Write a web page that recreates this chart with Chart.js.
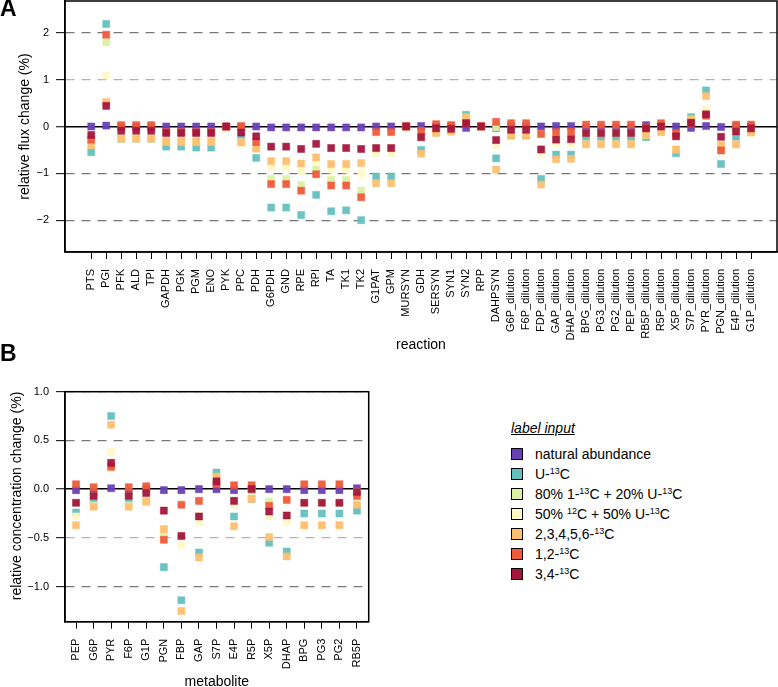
<!DOCTYPE html>
<html>
<head>
<meta charset="utf-8">
<script src="https://cdn.jsdelivr.net/npm/chart.js@4.4.1/dist/chart.umd.min.js"></script>
<style>
html,body{margin:0;padding:0;width:778px;height:687px;overflow:hidden;background:#fff;font-family:'Liberation Sans',Arial,sans-serif;color:#000}
canvas{position:absolute;left:0}
#cA{top:0}
#cB{top:360px}
.pl{position:absolute;font-weight:bold;font-size:23px;line-height:23px}
.lgTitle{position:absolute;left:511px;top:418px;font-size:14px;line-height:20px;font-style:italic;text-decoration:underline}
.lgRow{position:absolute;left:511px;height:20px;font-size:14px;line-height:20px;white-space:nowrap}
.lgBox{position:absolute;left:0;top:4px;width:10px;height:10px;border:1px solid #000}
.lgText{position:absolute;left:24px;top:0}
sup{font-size:9px;line-height:0;vertical-align:5px}
</style>
</head>
<body>
<canvas id="cA" width="778" height="360"></canvas>
<canvas id="cB" width="380" height="335"></canvas>
<div class="pl" style="left:0;top:-3px">A</div>
<div class="pl" style="left:0;top:342px">B</div>
<div id="legend"></div>
<script>
// ---------- categories ----------
const reactions = ['PTS','PGI','PFK','ALD','TPI','GAPDH','PGK','PGM','ENO','PYK','PPC','PDH','G6PDH','GND','RPE','RPI','TA','TK1','TK2','G1PAT','GPM','MURSYN','GDH','SERSYN','SYN1','SYN2','RPP','DAHPSYN','G6P_dilution','F6P_dilution','FDP_dilution','GAP_dilution','DHAP_dilution','BPG_dilution','PG3_dilution','PG2_dilution','PEP_dilution','RB5P_dilution','R5P_dilution','X5P_dilution','S7P_dilution','PYR_dilution','PGN_dilution','E4P_dilution','G1P_dilution'];
const metabolites = ['PEP','G6P','PYR','F6P','G1P','PGN','FBP','GAP','S7P','E4P','R5P','X5P','DHAP','BPG','PG3','PG2','RB5P'];

// ---------- series names ----------
const seriesNames = ['natural abundance','U-13C','80% 1-13C + 20% U-13C','50% 12C + 50% U-13C','2,3,4,5,6-13C','1,2-13C','3,4-13C'];
const seriesLegendHtml = ['natural abundance','U-<sup>13</sup>C','80% 1-<sup>13</sup>C + 20% U-<sup>13</sup>C','50% <sup>12</sup>C + 50% U-<sup>13</sup>C','2,3,4,5,6-<sup>13</sup>C','1,2-<sup>13</sup>C','3,4-<sup>13</sup>C'];

// ---------- panel A: relative flux change (%) ----------
const fluxNatural = [0,0.02,-0.01,-0.01,-0.01,0,0,0,0,0,-0.01,0,-0.02,-0.02,-0.02,-0.02,-0.02,-0.02,-0.02,0,0,0,0.01,0,0,-0.03,0,-0.03,0,0,0,0.01,0.01,-0.03,-0.03,-0.03,-0.03,0.03,0,0,-0.03,0.01,-0.01,0,0];
const fluxU13C = [-0.55,2.19,-0.26,-0.26,-0.26,-0.43,-0.43,-0.45,-0.45,-0.01,-0.21,-0.67,-1.73,-1.73,-1.89,-1.46,-1.81,-1.79,-2.00,-1.07,-1.07,0,-0.50,-0.12,-0.08,0.25,0,-0.68,-0.18,-0.18,-1.12,-0.60,-0.60,-0.26,-0.26,-0.26,-0.26,-0.23,-0.10,-0.57,0.20,0.77,-0.80,-0.27,-0.10];
const flux80_1_20_U = [-0.25,1.80,-0.25,-0.25,-0.25,-0.32,-0.32,-0.32,-0.32,0,-0.34,-0.45,-1.12,-1.12,-1.25,-0.91,-1.14,-1.14,-1.37,-0.47,-0.47,0,-0.23,-0.10,-0.06,0.18,0,-0.02,-0.10,-0.10,-0.50,-0.28,-0.28,-0.14,-0.14,-0.14,-0.14,-0.04,-0.02,-0.21,0.12,0.26,-0.51,-0.11,-0.04];
const flux50_12_50_U = [-0.32,1.09,-0.25,-0.25,-0.25,-0.32,-0.32,-0.32,-0.32,0,-0.34,-0.47,-0.87,-0.87,-0.95,-0.76,-0.92,-0.92,-1.00,-0.57,-0.57,0,-0.23,-0.12,-0.09,0.18,0,-0.39,-0.15,-0.15,-0.59,-0.35,-0.35,-0.38,-0.38,-0.38,-0.38,-0.18,-0.10,-0.49,0.14,0.38,-0.40,-0.38,-0.12];
const flux23456 = [-0.40,0.52,-0.26,-0.26,-0.26,-0.32,-0.32,-0.32,-0.32,-0.02,-0.34,-0.47,-0.74,-0.74,-0.79,-0.66,-0.80,-0.80,-0.78,-1.21,-1.21,-0.02,-0.58,-0.14,-0.11,0.20,-0.01,-0.92,-0.20,-0.20,-1.24,-0.70,-0.69,-0.38,-0.38,-0.38,-0.38,-0.18,-0.12,-0.49,0.16,0.65,-0.40,-0.38,-0.13];
const flux12 = [-0.28,1.96,0.03,0.03,0.03,-0.12,-0.12,-0.12,-0.12,0,0.01,-0.33,-1.23,-1.23,-1.37,-1.02,-1.26,-1.26,-1.51,-0.12,-0.12,0.01,-0.09,0.05,0.03,0.07,0.01,0.10,0.07,0.07,-0.16,-0.12,-0.11,0.04,0.04,0.04,0.04,-0.03,0.07,-0.14,0.07,0.23,-0.51,0.04,0.04];
const flux34 = [-0.18,0.44,-0.09,-0.09,-0.09,-0.14,-0.14,-0.14,-0.14,0,-0.13,-0.21,-0.43,-0.43,-0.48,-0.37,-0.46,-0.46,-0.48,-0.46,-0.46,0,-0.23,-0.04,-0.05,0.07,0,-0.29,-0.07,-0.07,-0.49,-0.28,-0.27,-0.14,-0.14,-0.14,-0.14,-0.04,0,-0.21,0.08,0.26,-0.22,-0.11,-0.04];
const fluxTicks = [-2,-1,0,1,2];

// ---------- panel B: relative concentration change (%) ----------
const concNatural = [-0.01,-0.03,0.01,-0.03,0,-0.01,-0.01,0,0,-0.01,0,0,0,-0.01,-0.01,-0.01,0.01];
const concU13C = [-0.24,-0.12,0.75,-0.12,-0.12,-0.80,-1.14,-0.65,0.17,-0.28,-0.10,-0.55,-0.64,-0.25,-0.25,-0.25,-0.22];
const conc80_1_20_U = [-0.14,-0.07,0.22,-0.07,-0.04,-0.47,-0.48,-0.28,0.08,-0.12,-0.02,-0.13,-0.27,-0.14,-0.14,-0.14,-0.03];
const conc50_12_50_U = [-0.28,-0.17,0.38,-0.17,-0.12,-0.41,-0.57,-0.34,0.12,-0.16,-0.09,-0.28,-0.34,-0.37,-0.37,-0.37,-0.15];
const conc23456 = [-0.37,-0.18,0.66,-0.18,-0.13,-0.41,-1.25,-0.70,0.13,-0.38,-0.10,-0.49,-0.69,-0.37,-0.37,-0.37,-0.16];
const conc12 = [0.05,0.02,0.23,0.02,0.03,-0.52,-0.16,-0.12,0.05,0.04,0.04,-0.17,-0.11,0.05,0.05,0.05,-0.07];
const conc34 = [-0.14,-0.07,0.27,-0.07,-0.04,-0.22,-0.48,-0.28,0.08,-0.12,0,-0.23,-0.27,-0.14,-0.14,-0.14,-0.03];
const concTicks = [-1,-0.5,0,0.5,1];

// ---------- styles ----------
const seriesColors = ['#6a3fb6','#64c0be','#dcf1a2','#fff8c4','#fdbf6f','#ef5a39','#a3153d'];

function rgba(hex, a) {
  const n = parseInt(hex.slice(1), 16);
  return `rgba(${(n >> 16) & 255},${(n >> 8) & 255},${n & 255},${a})`;
}

Chart.defaults.font.family = "'Liberation Sans', Arial, sans-serif";
Chart.defaults.color = '#000';

const framePlugin = {
  id: 'frame',
  afterDraw(chart) {
    const {ctx, chartArea: a} = chart;
    ctx.save();
    ctx.strokeStyle = '#000';
    ctx.lineWidth = 1.5;
    ctx.strokeRect(a.left, a.top, a.right - a.left, a.bottom - a.top);
    ctx.restore();
  }
};

const minus = s => s.replace('-', '\u2212');

function scatterChart(id, cats, series, o) {
  const datasets = series.map((vals, s) => ({
    label: seriesNames[s],
    data: vals.map((v, i) => ({x: i, y: v})),
    pointStyle: 'rect',
    pointRadius: 5,
    pointHoverRadius: 5,
    backgroundColor: rgba(seriesColors[s], 0.95),
    borderColor: rgba(seriesColors[s], 0.45),
    borderWidth: 1,
    order: series.length - 1 - s
  }));
  const gridColor = c => {
    if (!c.tick) return '#777';
    if (c.tick.value === 0) return '#000';
    return c.tick.value === o.lightTick ? '#b4b4b4' : '#777';
  };
  return new Chart(document.getElementById(id), {
    type: 'scatter',
    data: {datasets},
    options: {
      responsive: false,
      animation: false,
      events: [],
      layout: {padding: o.padding, autoPadding: false},
      plugins: {legend: {display: false}, tooltip: {enabled: false}},
      scales: {
        x: {
          type: 'linear', min: o.xmin, max: o.xmax,
          afterBuildTicks: ax => { ax.ticks = cats.map((_, i) => ({value: i})); },
          afterFit: ax => { ax.height = o.xh; ax.paddingLeft = 0; ax.paddingRight = 0; },
          ticks: {autoSkip: false, minRotation: 90, maxRotation: 90, padding: 10, color: '#000', font: {size: 11}, callback: v => cats[v]},
          grid: {drawOnChartArea: false, drawTicks: true, tickLength: 7, tickColor: '#000', tickWidth: 1},
          border: {display: true, color: '#000', width: 1.5},
          title: {display: true, text: o.xtitle, color: '#000', font: {size: 14}, padding: {top: 0, bottom: o.xtpad}}
        },
        y: {
          type: 'linear', min: o.ymin, max: o.ymax,
          afterBuildTicks: ax => { ax.ticks = o.yticks.map(v => ({value: v})); },
          afterFit: ax => { ax.width = 65; ax.paddingTop = 0; ax.paddingBottom = 0; },
          ticks: {padding: 7, color: '#000', font: {size: 11}, callback: o.yfmt},
          grid: {
            color: gridColor,
            lineWidth: c => (c.tick && c.tick.value === 0) ? 1.5 : 1.3,
            drawTicks: true, tickLength: 9, tickColor: '#000', tickWidth: 1
          },
          border: {display: true, color: '#000', width: 1.5, dash: c => (c.tick && c.tick.value !== 0) ? [9, 7] : []},
          title: {display: true, text: o.ytitle, align: o.yalign, color: '#000', font: {size: 14}, padding: {top: o.ytpad, bottom: 0}}
        }
      }
    },
    plugins: [framePlugin]
  });
}

scatterChart('cA', reactions,
  [fluxNatural, fluxU13C, flux80_1_20_U, flux50_12_50_U, flux23456, flux12, flux34],
  {padding: {top: 1, right: 1, left: 0, bottom: 0}, xmin: -1.75, xmax: 45.73, xh: 108,
   xtitle: 'reaction', xtpad: 6.6, ymin: -2.68, ymax: 2.68, yticks: fluxTicks, lightTick: 1,
   yfmt: v => minus(String(v)), ytitle: 'relative flux change (%)', yalign: 'center', ytpad: 16.6});

scatterChart('cB', metabolites,
  [concNatural, concU13C, conc80_1_20_U, conc50_12_50_U, conc23456, conc12, conc34],
  {padding: {top: 31.7, right: 11.3, left: 0, bottom: 0}, xmin: -0.63, xmax: 16.67, xh: 73.3,
   xtitle: 'metabolite', xtpad: 4.9, ymin: -1.36, ymax: 1.0, yticks: concTicks, lightTick: -0.5,
   yfmt: v => minus(Number(v).toFixed(1)), ytitle: 'relative concentration change (%)', yalign: 'end', ytpad: 9.1});

// ---------- legend ----------
const lg = document.getElementById('legend');
const t = document.createElement('div');
t.className = 'lgTitle';
t.textContent = 'label input';
lg.appendChild(t);
seriesLegendHtml.forEach((h, s) => {
  const row = document.createElement('div');
  row.className = 'lgRow';
  row.style.top = (444 + 20 * s) + 'px';
  const box = document.createElement('span');
  box.className = 'lgBox';
  box.style.background = seriesColors[s];
  const txt = document.createElement('span');
  txt.className = 'lgText';
  txt.innerHTML = h;
  row.appendChild(box);
  row.appendChild(txt);
  lg.appendChild(row);
});
</script>
</body>
</html>
